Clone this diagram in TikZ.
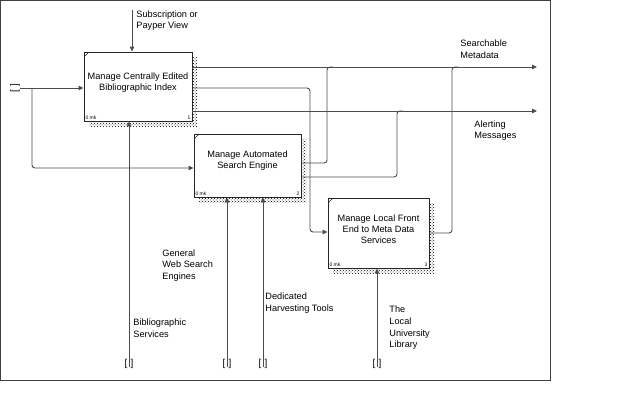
\documentclass[tikz,border=0pt]{standalone}
\usepackage{fontspec}
\setmainfont{Liberation Sans}
\usetikzlibrary{arrows.meta, positioning, calc, shadows, patterns}

\begin{document}
\begin{tikzpicture}[x=1pt, y=-1pt, line width=0.9pt,
    act/.style args={#1x#2}{rectangle, draw=black!85, fill=white, minimum width=#1pt, minimum height=#2pt, inner sep=0pt,
        general shadow={shadow xshift=5pt, shadow yshift=-5pt, pattern=crosshatch dots},
        path picture={\draw[line width=0.6pt] (path picture bounding box.north west) ++(0,-5pt) -- ++(5pt,5pt);}},
    boxtext/.style={font=\fontsize{9.2}{11.2}\selectfont, align=center, inner sep=0pt},
    lbl/.style={font=\fontsize{9.2}{11.6}\selectfont, align=left, anchor=west, inner sep=0pt},
    tag/.style={font=\fontsize{5}{6}\selectfont, inner sep=1.5pt},
    brk/.style={font=\fontsize{10}{11}\selectfont, inner sep=0pt},
    conn/.style={draw=black!70, rounded corners=3pt},
    arr/.style={conn, -{Triangle[length=5pt, width=4.5pt]}}
]
\useasboundingbox (0,0) rectangle (623,407);
\draw[black!75] (0.5,0.5) rectangle (550,380);

% Activities
\node[act=108x69] (A1) at (138,86.5) {};
\node[boxtext] (t1) at (138,82.5) {Manage Centrally Edited\\Bibliographic Index};
\node[tag, anchor=south west] (k1) at (A1.south west) {0 mk};
\node[tag, anchor=south east] (n1) at (A1.south east) {1};

\node[act=107x63] (A2) at (247.5,165.5) {};
\node[boxtext] (t2) at (247.5,160.5) {Manage Automated\\Search Engine};
\node[tag, anchor=south west] (k2) at (A2.south west) {0 mk};
\node[tag, anchor=south east] (n2) at (A2.south east) {2};

\node[act=101x70] (A3) at (378.5,233) {};
\node[boxtext] (t3) at (378.5,229) {Manage Local Front\\End to Meta Data\\Services};
\node[tag, anchor=south west] (k3) at (A3.south west) {0 mk};
\node[tag, anchor=south east] (n3) at (A3.south east) {3};

% Input
\node[brk, rotate=90] (in1) at (15,88) {[\,\,]};
\coordinate (br) at (32,88);
\draw[arr] (in1) -- (A1.west |- in1);
\draw[arr] (br) -- (32,168) -- (A2.west |- 0,168);

% Control
\coordinate (c1) at (132,10);
\draw[arr] (c1) -- (c1 |- A1.north);
\node[lbl] (lc1) at (136,20.5) {Subscription or\\Payper View};

% Outputs
\coordinate (o1) at (537,67);
\coordinate (o2) at (537,111);
\draw[arr] (A1.east |- o1) -- (o1);
\draw[arr] (A1.east |- o2) -- (o2);
\draw[arr] (A1.east |- 0,88) -- (310,88) -- (310,232) -- (A3.west |- 0,232);
\draw[conn] (A2.east |- 0,163) -- (327,163) -- (327,67) -- (333,67);
\draw[conn] (A2.east |- 0,177) -- (397,177) -- (397,111) -- (403,111);
\draw[conn] (A3.east |- 0,233) -- (452,233) -- (452,67) -- (458,67);
\node[lbl] (lo1) at (460,49) {Searchable\\Metadata};
\node[lbl] (lo2) at (474,130.5) {Alerting\\Messages};

% Mechanisms
\node[brk] (m1) at (129,364) {[\,\,]};
\node[brk] (m2) at (227,364) {[\,\,]};
\node[brk] (m3) at (263,364) {[\,\,]};
\node[brk] (m4) at (377,364) {[\,\,]};
\draw[arr] ([yshift=-3pt]m1.center) -- (m1 |- A1.south);
\draw[arr] ([yshift=-3pt]m2.center) -- (m2 |- A2.south);
\draw[arr] ([yshift=-3pt]m3.center) -- (m3 |- A2.south);
\draw[arr] ([yshift=-3pt]m4.center) -- (m4 |- A3.south);
\node[lbl] (lm1) at (133,328) {Bibliographic\\Services};
\node[lbl] (lm2) at (162,265.5) {General\\Web Search\\Engines};
\node[lbl] (lm3) at (265,303) {Dedicated\\Harvesting Tools};
\node[lbl] (lm4) at (389,328) {The\\Local\\University\\Library};

\end{tikzpicture}
\end{document}
